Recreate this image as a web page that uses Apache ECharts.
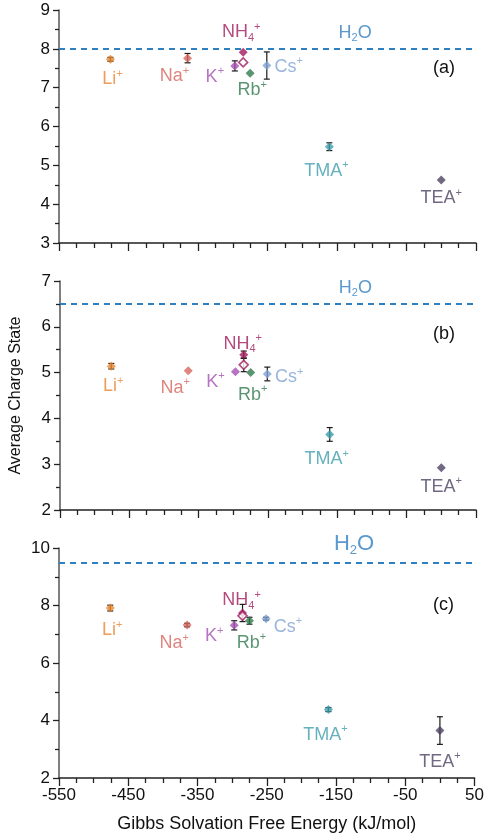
<!DOCTYPE html>
<html>
<head>
<meta charset="utf-8">
<script src="https://cdn.jsdelivr.net/npm/echarts@6/dist/echarts.min.js"></script>
<style>
html,body{margin:0;padding:0;background:#fff;}
#chart{width:487px;height:840px;}
</style>
</head>
<body>
<div id="chart"></div>
<script>
// ---------- data ----------
const ions = ['Li', 'Na', 'K', 'NH4', 'Rb', 'Cs', 'TMA', 'TEA'];
const gibbsEnergy = [-476, -365, -297, -285, -275, -251, -161, 0];
const chargeA = [7.73, 7.76, 7.56, 7.91, 7.37, 7.57, 5.48, 4.62];
const errorA  = [0.05, 0.12, 0.13, 0,    0,    0.35, 0.10, 0];
const chargeB = [5.14, 5.04, 5.02, 5.39, 5.00, 4.97, 3.65, 2.92];
const errorB  = [0.06, 0,    0,    0.08, 0,    0.15, 0.15, 0];
const chargeC = [7.91, 7.32, 7.31, 7.74, 7.47, 7.54, 4.38, 3.65];
const errorC  = [0.10, 0.06, 0.16, 0.30, 0.12, 0.05, 0.07, 0.48];
const nh4OpenCharge = [7.65, 5.17, 7.64];
const nh4OpenError  = [0,    0.15, 0];
const waterCharge = [8, 6.5, 9.5];
const waterLabelX = -124;
const panelNames = ['(a)', '(b)', '(c)'];
const yMin = [3, 2, 2], yMax = [9, 7, 10], yStep = [1, 1, 2];
const xMin = -550, xMax = 50, xStep = 100;

// ---------- styles ----------
const FONT = '"Liberation Sans", Arial, sans-serif';
const ionColor = {Li:'#E8862F', Na:'#D4665E', K:'#A451B3', NH4:'#A11B5E', Rb:'#2F7A4E', Cs:'#7FA2D2', TMA:'#3E9EAB', TEA:'#4E4462'};
const waterColor = '#2F80C0';
const ionText = {Li:'{m|Li}{sup|+}', Na:'{m|Na}{sup|+}', K:'{m|K}{sup|+}', NH4:'{m|NH}{sub|4}{sup|+}', Rb:'{m|Rb}{sup|+}', Cs:'{m|Cs}{sup|+}', TMA:'{m|TMA}{sup|+}', TEA:'{m|TEA}{sup|+}'};
const labelOffsets = [
  {Li:[2,20], Na:[-13,18], K:[-20,11], NH4:[-2,-20], Rb:[2,17], Cs:[22,1], TMA:[-3,24], TEA:[0,18]},
  {Li:[2,20], Na:[-13,17], K:[-20,10], NH4:[-1,-11], Rb:[2,22], Cs:[22,3], TMA:[-3,25], TEA:[0,19]},
  {Li:[2,22], Na:[-13,18], K:[-20,11], NH4:[-1,-13], Rb:[2,22], Cs:[22,8], TMA:[-3,25], TEA:[0,31]}
];
const grids = [
  {left:59, width:417, top:10, height:233},
  {left:59, width:417, top:281, height:229},
  {left:59, width:417, top:548, height:230}
];

function rich(color, fs) {
  const ss = Math.round(fs * 0.6), lh = fs + 4;
  return {
    m:{color, fontSize:fs, fontFamily:FONT, lineHeight:lh},
    sup:{color, fontSize:ss, fontFamily:FONT, verticalAlign:'top', lineHeight:lh},
    sub:{color, fontSize:ss, fontFamily:FONT, verticalAlign:'bottom', lineHeight:lh}
  };
}

const charges = [chargeA, chargeB, chargeC];
const errors = [errorA, errorB, errorC];

const xAxes = [], yAxes = [], series = [], graphics = [];
for (let p = 0; p < 3; p++) {
  const last = p === 2;
  xAxes.push({
    gridIndex:p, type:'value', min:xMin, max:xMax, interval:xStep,
    axisLine:{show:true, onZero:false, lineStyle:{color:'#222', width:1.5}},
    axisTick:{show:true, inside:false, length:8, lineStyle:{color:'#222', width:1.3}},
    minorTick:{show:true, splitNumber:4, length:5, lineStyle:{color:'#222', width:1.3}},
    splitLine:{show:false},
    axisLabel:{show:last, color:'#111', fontSize:17, fontFamily:FONT, margin:9},
    name: last ? 'Gibbs Solvation Free Energy (kJ/mol)' : '',
    nameLocation:'middle', nameGap:37,
    nameTextStyle:{color:'#111', fontSize:18, fontFamily:FONT}
  });
  yAxes.push({
    gridIndex:p, type:'value', min:yMin[p], max:yMax[p], interval:yStep[p],
    axisLine:{show:true, onZero:false, lineStyle:{color:'#555', width:1.5}},
    axisTick:{show:true, inside:false, length:6, lineStyle:{color:'#222', width:1.3}},
    minorTick:{show:true, splitNumber:2, length:4, lineStyle:{color:'#222', width:1.3}},
    splitLine:{show:false},
    axisLabel:{color:'#111', fontSize:17, fontFamily:FONT, margin:9},
    name: p === 1 ? 'Average Charge State' : '',
    nameLocation:'middle', nameGap:36, nameRotate:90,
    nameTextStyle:{color:'#111', fontSize:16, fontFamily:'"Liberation Sans Narrow", "Liberation Sans", Arial, sans-serif'}
  });

  // water reference line + label
  series.push({
    type:'scatter', xAxisIndex:p, yAxisIndex:p, silent:true,
    symbolSize:0,
    data:[[waterLabelX, waterCharge[p]]],
    label:{show:true, position:'inside', offset:[0, p===2 ? -18 : -16],
      formatter:'{m|H}{sub|2}{m|O}', rich:rich(waterColor, p===2 ? 22 : 18)},
    markLine:{silent:true, symbol:'none', label:{show:false},
      lineStyle:{type:[6,5], color:waterColor, width:2},
      data:[{yAxis:waterCharge[p]}]},
    z:1
  });

  // error bars
  const eb = [];
  ions.forEach((ion, i) => { if (errors[p][i] > 0) eb.push([gibbsEnergy[i], charges[p][i], errors[p][i]]); });
  if (nh4OpenError[p] > 0) eb.push([gibbsEnergy[3], nh4OpenCharge[p], nh4OpenError[p]]);
  series.push({
    type:'custom', xAxisIndex:p, yAxisIndex:p, silent:true, z:3,
    data:eb,
    renderItem:function(params, api){
      const x = api.value(0), y = api.value(1), e = api.value(2);
      const top = api.coord([x, y + e]), bot = api.coord([x, y - e]);
      const w = 3;
      const st = {stroke:'#1a1a1a', lineWidth:1.2};
      return {type:'group', children:[
        {type:'line', shape:{x1:top[0], y1:top[1], x2:bot[0], y2:bot[1]}, style:st},
        {type:'line', shape:{x1:top[0]-w, y1:top[1], x2:top[0]+w, y2:top[1]}, style:st},
        {type:'line', shape:{x1:bot[0]-w, y1:bot[1], x2:bot[0]+w, y2:bot[1]}, style:st}
      ]};
    }
  });

  // ion points
  series.push({
    type:'scatter', xAxisIndex:p, yAxisIndex:p, silent:true, z:4,
    symbol:'diamond', symbolSize:9,
    data: ions.map((ion, i) => ({
      value:[gibbsEnergy[i], charges[p][i]],
      itemStyle:{color:ionColor[ion]},
      label:{show:true, position:'inside', offset:labelOffsets[p][ion],
        formatter:ionText[ion], rich:rich(ionColor[ion], 18)}
    }))
  });

  // NH4 open diamond
  series.push({
    type:'scatter', xAxisIndex:p, yAxisIndex:p, silent:true, z:5,
    symbol:'diamond', symbolSize:9,
    data:[[gibbsEnergy[3], nh4OpenCharge[p]]],
    itemStyle:{color:'#fff', borderColor:ionColor.NH4, borderWidth:1.6}
  });

  graphics.push({
    type:'text', left:433, top:grids[p].top + [49, 44, 48][p],
    style:{text:panelNames[p], font:'18px ' + FONT, fill:'#111'}
  });
}

const chart = echarts.init(document.getElementById('chart'), null, {renderer:'canvas'});
chart.setOption({
  animation:false,
  backgroundColor:'#fff',
  grid:grids,
  xAxis:xAxes,
  yAxis:yAxes,
  series:series,
  graphic:graphics
});
</script>
</body>
</html>
